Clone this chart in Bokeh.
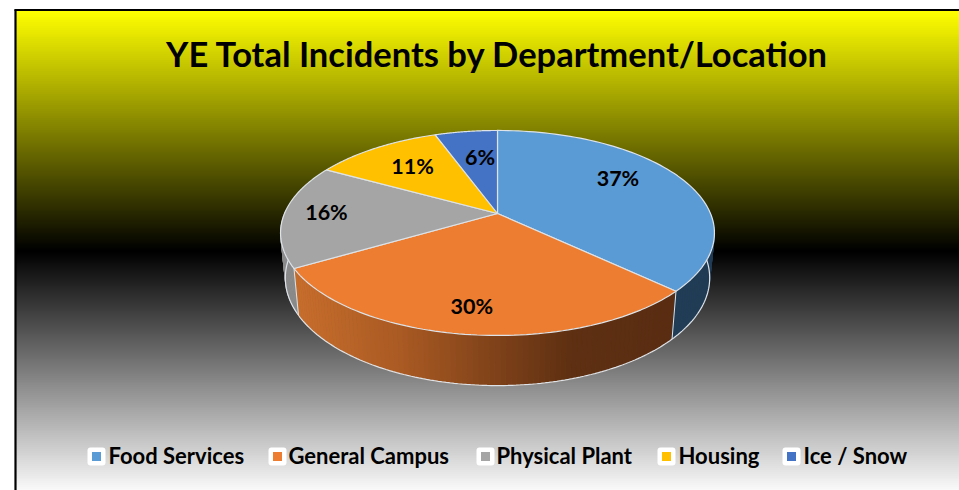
import numpy as np
from bokeh.plotting import figure
from bokeh.core.properties import value
from bokeh.embed import file_html
from bokeh.resources import INLINE

TITLE = "YE Total Incidents by Department/Location"
departments = ["Food Services", "General Campus", "Physical Plant", "Housing", "Ice / Snow"]
shares = [37.0, 29.6, 16.4, 11.4, 5.6]
share_labels = ["37%", "30%", "16%", "11%", "6%"]
top_colors = ["#5B9BD5", "#ED7D31", "#A5A5A5", "#FFC000", "#4472C4"]
FONT = "Lato"
EDGE = "#DDE3E8"

# layout, in page pixels
X0, Y0, A, B, K = 497.0, 213.0, 213.0, 98.8, 0.19
LEFT, TOP, RIGHT, BOTTOM = 0, 0, 959, 490

p = figure(width=RIGHT - LEFT, height=BOTTOM - TOP, x_range=(LEFT, RIGHT), y_range=(BOTTOM, TOP),
           output_backend="svg", toolbar_location=None, min_border=0,
           outline_line_color=None, background_fill_color="white", border_fill_color="white")
p.axis.visible = False
p.grid.visible = False


def top_pt(theta, r=1.0):
    u, v = r * np.sin(theta), r * np.cos(theta)
    w = 1 + K * v
    return X0 + A * u / w, Y0 - B * v / w


def bot_pt(theta):
    x, y = top_pt(theta)
    return X0 + 0.978 * (x - X0), Y0 + 44 + 1.05 * (y - Y0)


# background gradient: each band runs to the bottom and the next one paints over it
rows = np.arange(10, BOTTOM)
shade = []
for y in rows:
    if y < 250:
        g = int(round(255 * (250 - y) / 240))
        shade.append(f"#{g:02x}{g:02x}00")
    else:
        g = int(min(255, round(250 * (y - 250) / 240)))
        shade.append(f"#{g:02x}{g:02x}{g:02x}")
p.quad(left=15, right=RIGHT, top=rows, bottom=BOTTOM, fill_color=shade, line_color=None)
p.multi_line([[15, 15], [14, RIGHT]], [[9, BOTTOM], [9.5, 9.5]], line_color="black",
             line_width=[2.2, 2])

# slice angles
edges = np.concatenate([[0], np.cumsum(shares)]) / np.sum(shares) * 2 * np.pi


def wall_color(i, x):
    if i == 0:
        c = (33, 60, 86)
    elif i == 2:
        c = (140, 140, 140)
    else:
        xs = [295, 400, 500, 570, 675]
        c = (np.interp(x, xs, [200, 170, 125, 95, 90]), np.interp(x, xs, [110, 90, 65, 48, 45]),
             np.interp(x, xs, [45, 35, 25, 18, 18]))
    return "#%02x%02x%02x" % tuple(int(v) for v in c)


# side walls (front half of the rim only)
t_start, t_end = np.radians(88), np.radians(272)
steps = np.linspace(t_start, t_end, 150)
wx, wy, wc = [], [], []
for a, b in zip(steps[:-1], steps[1:]):
    mid = (a + b) / 2
    i = int(np.searchsorted(edges, mid)) - 1
    xa, ya = top_pt(a)
    xb, yb = top_pt(b)
    xc, yc = bot_pt(b)
    xd, yd = bot_pt(a)
    wx.append([xa, xb, xc, xd])
    wy.append([ya, yb, yc, yd])
    wc.append(wall_color(i, (xa + xb) / 2))
p.patches(wx, wy, fill_color=wc, line_color=wc, line_width=0.8)

# wall outlines
bt = np.linspace(t_start, t_end, 200)
bx, by = bot_pt(bt)
p.line(bx, by, line_color=EDGE, line_width=1.2)
for k in (1, 2):
    x1, y1 = top_pt(edges[k])
    x2, y2 = bot_pt(edges[k])
    p.line([x1, x2], [y1, y2], line_color=EDGE, line_width=1.0)

# top face
for k, col in enumerate(top_colors):
    t = np.linspace(edges[k], edges[k + 1], 80)
    x, y = top_pt(t)
    p.patch(np.r_[X0, x], np.r_[Y0, y], fill_color=col, line_color=EDGE, line_width=1.2)

# data labels
nudges = [(-6, -10), (-7, 16), (-26, -2), (1, -1), (5, 2)]
mids = (edges[:-1] + edges[1:]) / 2
lx, ly = top_pt(mids, 0.68)
lx = lx + np.array([n[0] for n in nudges])
ly = ly + np.array([n[1] for n in nudges])
p.text(lx, ly, text=share_labels, text_font=value(FONT), text_font_style="bold",
       text_font_size="21.5px", text_align="center", text_baseline="middle", text_color="black")

# title
p.text([497], [53], text=[TITLE], text_font=value(FONT), text_font_style="bold",
       text_font_size="34.5px", text_align="center", text_baseline="middle", text_color="black")

# legend
key_x = [96, 277, 485, 666, 791]
text_x = [108, 288, 496, 678, 803]
p.rect(key_x, 456, 18, 18, fill_color="white", line_color=None, border_radius=3)
p.rect(key_x, 456, 9, 9, fill_color=top_colors, line_color=None)
p.text(text_x, 455, text=departments, text_font=value(FONT), text_font_style="bold",
       text_font_size="22px", text_align="left", text_baseline="middle", text_color="black")

open("out.html", "w").write(file_html(p, INLINE))
